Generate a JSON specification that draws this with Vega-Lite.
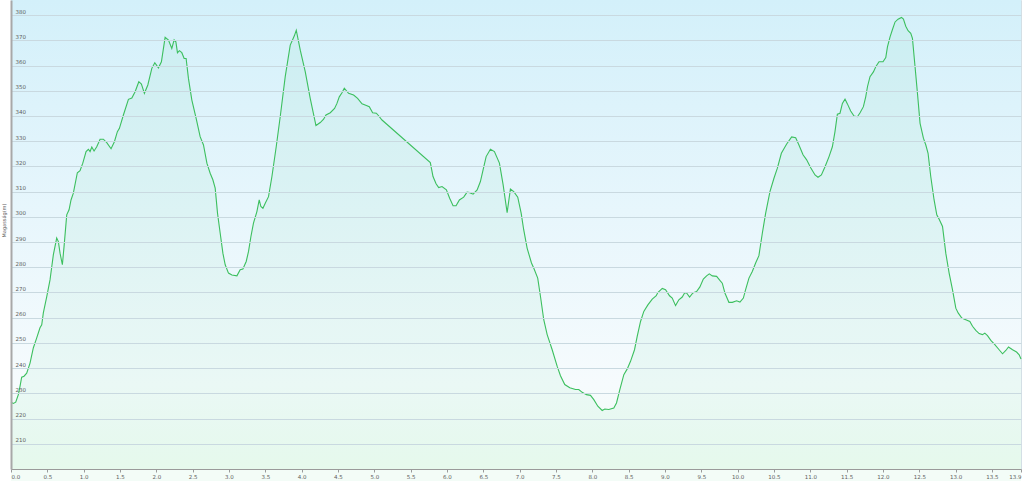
{
  "$schema": "https://vega.github.io/schema/vega-lite/v6.json",
  "width": 1010,
  "height": 469,
  "autosize": {"type": "none"},
  "padding": {"left": 11, "top": 0, "right": 2, "bottom": 12},
  "background": "#ffffff",
  "config": {
    "view": {"stroke": "#d3dfe5", "strokeWidth": 1},
    "font": "DejaVu Sans"
  },
  "datasets": {
    "profile": [
      {"km": 0.000, "elev": 226.5}, {"km": 0.032, "elev": 226.0}, {"km": 0.065, "elev": 226.5}, {"km": 0.101, "elev": 229.5},
      {"km": 0.124, "elev": 232.8}, {"km": 0.147, "elev": 236.4}, {"km": 0.179, "elev": 236.8}, {"km": 0.216, "elev": 238.0},
      {"km": 0.262, "elev": 242.0}, {"km": 0.307, "elev": 248.0}, {"km": 0.354, "elev": 252.0}, {"km": 0.399, "elev": 256.0},
      {"km": 0.423, "elev": 257.2}, {"km": 0.445, "elev": 261.9}, {"km": 0.492, "elev": 268.4}, {"km": 0.537, "elev": 275.0},
      {"km": 0.583, "elev": 285.0}, {"km": 0.629, "elev": 291.6}, {"km": 0.652, "elev": 290.2}, {"km": 0.675, "elev": 285.6},
      {"km": 0.707, "elev": 281.0}, {"km": 0.730, "elev": 288.2}, {"km": 0.767, "elev": 300.8}, {"km": 0.799, "elev": 302.8},
      {"km": 0.826, "elev": 306.7}, {"km": 0.858, "elev": 309.4}, {"km": 0.913, "elev": 317.5}, {"km": 0.950, "elev": 318.3},
      {"km": 0.988, "elev": 321.3}, {"km": 1.033, "elev": 325.9}, {"km": 1.065, "elev": 326.8}, {"km": 1.088, "elev": 325.9},
      {"km": 1.112, "elev": 327.7}, {"km": 1.143, "elev": 326.1}, {"km": 1.180, "elev": 327.8}, {"km": 1.226, "elev": 330.8},
      {"km": 1.271, "elev": 330.8}, {"km": 1.318, "elev": 329.4}, {"km": 1.377, "elev": 327.0}, {"km": 1.423, "elev": 329.8},
      {"km": 1.464, "elev": 333.8}, {"km": 1.492, "elev": 335.1}, {"km": 1.547, "elev": 340.4}, {"km": 1.616, "elev": 346.6},
      {"km": 1.663, "elev": 347.1}, {"km": 1.708, "elev": 349.6}, {"km": 1.759, "elev": 353.6}, {"km": 1.795, "elev": 352.7},
      {"km": 1.836, "elev": 349.0}, {"km": 1.883, "elev": 352.3}, {"km": 1.938, "elev": 358.9}, {"km": 1.979, "elev": 361.1},
      {"km": 2.029, "elev": 359.1}, {"km": 2.070, "elev": 361.5}, {"km": 2.121, "elev": 371.2}, {"km": 2.167, "elev": 370.1},
      {"km": 2.213, "elev": 366.8}, {"km": 2.245, "elev": 370.2}, {"km": 2.269, "elev": 369.4}, {"km": 2.291, "elev": 365.1},
      {"km": 2.318, "elev": 365.9}, {"km": 2.351, "elev": 365.1}, {"km": 2.383, "elev": 362.8}, {"km": 2.410, "elev": 362.8},
      {"km": 2.442, "elev": 354.9}, {"km": 2.489, "elev": 346.3}, {"km": 2.548, "elev": 339.1}, {"km": 2.603, "elev": 331.8},
      {"km": 2.649, "elev": 328.5}, {"km": 2.696, "elev": 321.3}, {"km": 2.741, "elev": 317.3}, {"km": 2.778, "elev": 314.7},
      {"km": 2.810, "elev": 311.4}, {"km": 2.842, "elev": 301.5}, {"km": 2.879, "elev": 293.5}, {"km": 2.916, "elev": 285.6},
      {"km": 2.948, "elev": 281.0}, {"km": 2.993, "elev": 277.7}, {"km": 3.040, "elev": 276.9}, {"km": 3.109, "elev": 276.6},
      {"km": 3.154, "elev": 279.0}, {"km": 3.191, "elev": 279.3}, {"km": 3.237, "elev": 282.3}, {"km": 3.269, "elev": 286.3},
      {"km": 3.302, "elev": 292.2}, {"km": 3.337, "elev": 297.5}, {"km": 3.384, "elev": 302.1}, {"km": 3.416, "elev": 306.7},
      {"km": 3.439, "elev": 304.1}, {"km": 3.467, "elev": 303.4}, {"km": 3.499, "elev": 305.4}, {"km": 3.544, "elev": 308.0},
      {"km": 3.591, "elev": 316.0}, {"km": 3.650, "elev": 327.8}, {"km": 3.705, "elev": 339.7}, {"km": 3.774, "elev": 355.6},
      {"km": 3.843, "elev": 368.1}, {"km": 3.898, "elev": 371.7}, {"km": 3.926, "elev": 374.0}, {"km": 3.981, "elev": 366.1},
      {"km": 4.050, "elev": 357.5}, {"km": 4.118, "elev": 347.0}, {"km": 4.197, "elev": 336.2}, {"km": 4.256, "elev": 337.4},
      {"km": 4.302, "elev": 338.7}, {"km": 4.335, "elev": 340.4}, {"km": 4.394, "elev": 341.3}, {"km": 4.453, "elev": 343.0},
      {"km": 4.486, "elev": 345.0}, {"km": 4.518, "elev": 347.6}, {"km": 4.555, "elev": 349.2}, {"km": 4.587, "elev": 351.0},
      {"km": 4.646, "elev": 349.0}, {"km": 4.715, "elev": 348.3}, {"km": 4.770, "elev": 347.0}, {"km": 4.831, "elev": 344.8},
      {"km": 4.899, "elev": 344.1}, {"km": 4.931, "elev": 343.7}, {"km": 4.977, "elev": 341.3}, {"km": 5.028, "elev": 341.1},
      {"km": 5.059, "elev": 340.1}, {"km": 5.106, "elev": 338.4}, {"km": 5.771, "elev": 321.5}, {"km": 5.808, "elev": 316.0},
      {"km": 5.850, "elev": 313.1}, {"km": 5.886, "elev": 311.6}, {"km": 5.932, "elev": 312.0}, {"km": 5.992, "elev": 310.7},
      {"km": 6.037, "elev": 307.4}, {"km": 6.084, "elev": 304.4}, {"km": 6.125, "elev": 304.4}, {"km": 6.171, "elev": 306.7},
      {"km": 6.230, "elev": 307.8}, {"km": 6.277, "elev": 309.8}, {"km": 6.313, "elev": 309.6}, {"km": 6.360, "elev": 309.0},
      {"km": 6.415, "elev": 310.7}, {"km": 6.460, "elev": 314.0}, {"km": 6.497, "elev": 318.6}, {"km": 6.539, "elev": 323.9},
      {"km": 6.598, "elev": 326.8}, {"km": 6.653, "elev": 325.9}, {"km": 6.722, "elev": 321.3}, {"km": 6.773, "elev": 312.7},
      {"km": 6.828, "elev": 301.7}, {"km": 6.873, "elev": 311.0}, {"km": 6.919, "elev": 310.0}, {"km": 6.974, "elev": 307.8},
      {"km": 7.021, "elev": 301.5}, {"km": 7.056, "elev": 294.9}, {"km": 7.103, "elev": 287.6}, {"km": 7.163, "elev": 281.7},
      {"km": 7.194, "elev": 279.7}, {"km": 7.249, "elev": 275.7}, {"km": 7.287, "elev": 268.4}, {"km": 7.332, "elev": 259.2},
      {"km": 7.379, "elev": 253.3}, {"km": 7.448, "elev": 247.3}, {"km": 7.517, "elev": 240.7}, {"km": 7.562, "elev": 237.0},
      {"km": 7.621, "elev": 233.5}, {"km": 7.690, "elev": 232.2}, {"km": 7.769, "elev": 231.5}, {"km": 7.814, "elev": 231.5},
      {"km": 7.861, "elev": 230.4}, {"km": 7.920, "elev": 229.5}, {"km": 7.975, "elev": 229.2}, {"km": 8.021, "elev": 227.5},
      {"km": 8.076, "elev": 224.9}, {"km": 8.136, "elev": 223.2}, {"km": 8.172, "elev": 223.8}, {"km": 8.227, "elev": 223.6},
      {"km": 8.296, "elev": 224.2}, {"km": 8.333, "elev": 226.2}, {"km": 8.379, "elev": 231.5}, {"km": 8.434, "elev": 237.4},
      {"km": 8.481, "elev": 239.7}, {"km": 8.526, "elev": 242.7}, {"km": 8.581, "elev": 247.3}, {"km": 8.618, "elev": 252.6},
      {"km": 8.664, "elev": 258.5}, {"km": 8.709, "elev": 262.5}, {"km": 8.765, "elev": 265.1}, {"km": 8.825, "elev": 267.4},
      {"km": 8.880, "elev": 268.7}, {"km": 8.902, "elev": 270.0}, {"km": 8.963, "elev": 271.6}, {"km": 9.008, "elev": 271.1},
      {"km": 9.063, "elev": 268.7}, {"km": 9.100, "elev": 267.8}, {"km": 9.146, "elev": 264.8}, {"km": 9.191, "elev": 267.1},
      {"km": 9.238, "elev": 268.2}, {"km": 9.270, "elev": 269.8}, {"km": 9.298, "elev": 269.8}, {"km": 9.339, "elev": 268.2},
      {"km": 9.384, "elev": 269.8}, {"km": 9.435, "elev": 270.4}, {"km": 9.481, "elev": 272.2}, {"km": 9.528, "elev": 275.3},
      {"km": 9.573, "elev": 276.6}, {"km": 9.610, "elev": 277.4}, {"km": 9.652, "elev": 276.6}, {"km": 9.711, "elev": 276.4},
      {"km": 9.756, "elev": 274.8}, {"km": 9.789, "elev": 273.7}, {"km": 9.825, "elev": 269.8}, {"km": 9.880, "elev": 266.1},
      {"km": 9.927, "elev": 266.1}, {"km": 9.986, "elev": 266.7}, {"km": 10.032, "elev": 266.2}, {"km": 10.079, "elev": 267.8},
      {"km": 10.110, "elev": 271.1}, {"km": 10.156, "elev": 275.7}, {"km": 10.202, "elev": 278.3}, {"km": 10.248, "elev": 281.7},
      {"km": 10.293, "elev": 284.6}, {"km": 10.340, "elev": 293.5}, {"km": 10.386, "elev": 301.5}, {"km": 10.445, "elev": 310.0},
      {"km": 10.500, "elev": 315.3}, {"km": 10.547, "elev": 319.3}, {"km": 10.602, "elev": 325.2}, {"km": 10.675, "elev": 328.9},
      {"km": 10.744, "elev": 331.7}, {"km": 10.799, "elev": 331.4}, {"km": 10.844, "elev": 328.5}, {"km": 10.900, "elev": 324.6},
      {"km": 10.950, "elev": 322.6}, {"km": 11.006, "elev": 319.5}, {"km": 11.065, "elev": 316.6}, {"km": 11.106, "elev": 315.7},
      {"km": 11.153, "elev": 316.6}, {"km": 11.203, "elev": 319.9}, {"km": 11.258, "elev": 323.9}, {"km": 11.304, "elev": 327.8},
      {"km": 11.340, "elev": 333.8}, {"km": 11.373, "elev": 340.7}, {"km": 11.409, "elev": 341.1}, {"km": 11.442, "elev": 345.0},
      {"km": 11.478, "elev": 346.7}, {"km": 11.511, "elev": 344.8}, {"km": 11.556, "elev": 342.0}, {"km": 11.602, "elev": 340.0},
      {"km": 11.649, "elev": 339.7}, {"km": 11.685, "elev": 341.3}, {"km": 11.731, "elev": 343.7}, {"km": 11.763, "elev": 347.6},
      {"km": 11.787, "elev": 351.6}, {"km": 11.822, "elev": 355.6}, {"km": 11.869, "elev": 357.5}, {"km": 11.901, "elev": 359.5},
      {"km": 11.946, "elev": 361.5}, {"km": 12.001, "elev": 361.5}, {"km": 12.039, "elev": 363.2}, {"km": 12.062, "elev": 367.4},
      {"km": 12.098, "elev": 371.4}, {"km": 12.131, "elev": 374.3}, {"km": 12.167, "elev": 377.3}, {"km": 12.208, "elev": 378.4},
      {"km": 12.255, "elev": 379.1}, {"km": 12.282, "elev": 378.4}, {"km": 12.314, "elev": 375.6}, {"km": 12.346, "elev": 373.8},
      {"km": 12.383, "elev": 372.8}, {"km": 12.406, "elev": 370.8}, {"km": 12.442, "elev": 359.5}, {"km": 12.475, "elev": 349.0},
      {"km": 12.511, "elev": 337.1}, {"km": 12.557, "elev": 331.2}, {"km": 12.590, "elev": 328.5}, {"km": 12.621, "elev": 325.2},
      {"km": 12.658, "elev": 316.0}, {"km": 12.704, "elev": 306.7}, {"km": 12.741, "elev": 300.8}, {"km": 12.769, "elev": 299.3},
      {"km": 12.820, "elev": 296.2}, {"km": 12.865, "elev": 285.6}, {"km": 12.911, "elev": 277.7}, {"km": 12.957, "elev": 271.1},
      {"km": 13.003, "elev": 263.8}, {"km": 13.035, "elev": 261.9}, {"km": 13.085, "elev": 259.9}, {"km": 13.140, "elev": 259.2},
      {"km": 13.196, "elev": 258.5}, {"km": 13.233, "elev": 256.6}, {"km": 13.278, "elev": 255.0}, {"km": 13.324, "elev": 253.7},
      {"km": 13.370, "elev": 253.3}, {"km": 13.402, "elev": 253.9}, {"km": 13.439, "elev": 252.9}, {"km": 13.485, "elev": 251.0},
      {"km": 13.540, "elev": 249.3}, {"km": 13.599, "elev": 247.3}, {"km": 13.646, "elev": 245.7}, {"km": 13.691, "elev": 247.0},
      {"km": 13.728, "elev": 248.4}, {"km": 13.784, "elev": 247.3}, {"km": 13.839, "elev": 246.4}, {"km": 13.875, "elev": 245.3},
      {"km": 13.900, "elev": 243.6}
    ]
  },
  "layer": [
    {
      "data": {"values": [{"bg": 1}]},
      "mark": {
        "type": "rect",
        "color": {
          "gradient": "linear",
          "x1": 0, "y1": 0, "x2": 0, "y2": 1,
          "stops": [
            {"offset": 0, "color": "#d3f0fa"},
            {"offset": 0.45, "color": "#e7f6fc"},
            {"offset": 0.82, "color": "#f6fbfd"},
            {"offset": 1, "color": "#f1fcf4"}
          ]
        }
      },
      "encoding": {}
    },
    {
      "data": {"name": "profile"},
      "encoding": {
        "x": {
          "field": "km", "type": "quantitative",
          "scale": {"domain": [0, 13.9], "nice": false, "zero": false},
          "axis": {
            "title": null,
            "zindex": 1,
            "values": [0, 0.5, 1, 1.5, 2, 2.5, 3, 3.5, 4, 4.5, 5, 5.5, 6, 6.5, 7, 7.5, 8, 8.5, 9, 9.5, 10, 10.5, 11, 11.5, 12, 12.5, 13, 13.5, 13.9],
            "format": ".1f",
            "grid": false,
            "domainColor": "#9a9a9a",
            "domainWidth": 1,
            "tickColor": "#9a9a9a",
            "tickSize": 3,
            "labelFontSize": 5.5,
            "labelColor": "#606060",
            "labelPadding": 2,
            "labelFlush": true,
            "labelOverlap": false,
            "labelBound": false
          }
        },
        "y": {
          "field": "elev", "type": "quantitative",
          "scale": {"domain": [200, 386], "nice": false, "zero": false},
          "axis": {
            "title": "Magasság(m)",
            "zindex": 1,
            "titleFontSize": 5,
            "titleFontWeight": "normal",
            "titleColor": "#606060",
            "titleX": -5,
            "titleY": 220,
            "values": [210, 220, 230, 240, 250, 260, 270, 280, 290, 300, 310, 320, 330, 340, 350, 360, 370, 380],
            "grid": true,
            "gridColor": "#c9d9e0",
            "gridWidth": 1,
            "ticks": false,
            "tickSize": 0,
            "domainColor": "#a8a8a8",
            "domainWidth": 2,
            "labelAlign": "left",
            "labelBaseline": "bottom",
            "labelPadding": -4,
            "labelOffset": -1,
            "labelFontSize": 5.5,
            "labelColor": "#606060",
            "labelOverlap": false,
            "labelBound": false
          }
        }
      },
      "layer": [
        {"mark": {"type": "area", "color": "#4fd08a", "opacity": 0.07, "interpolate": "linear"}},
        {"mark": {"type": "line", "color": "#3cbf5e", "strokeWidth": 1.1, "interpolate": "linear"}}
      ]
    }
  ]
}
